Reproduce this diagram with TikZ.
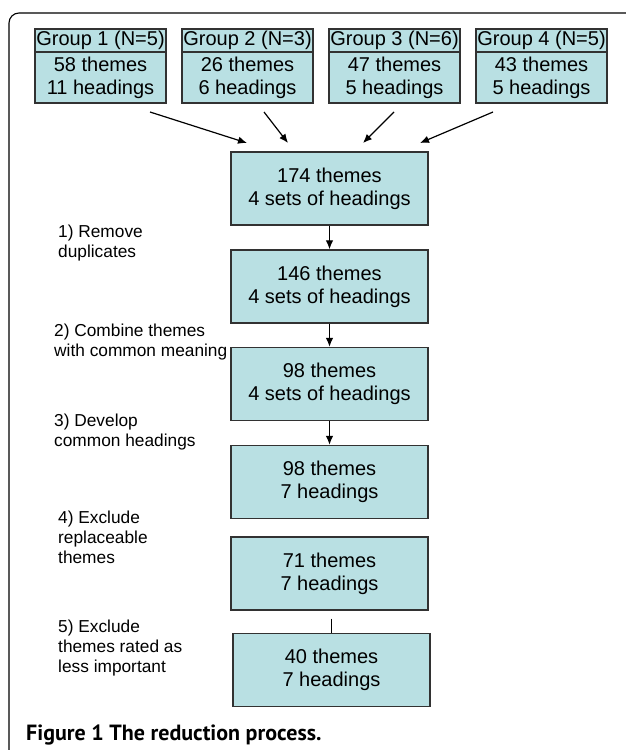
\documentclass[tikz,border=0pt]{standalone}
\usepackage{fontspec}
\setmainfont{Liberation Sans}
\newfontfamily\capfont{PT Sans}
\usetikzlibrary{arrows.meta,backgrounds}
\definecolor{boxfill}{RGB}{185,224,227}
\definecolor{boxline}{RGB}{50,50,50}
\begin{document}
\begin{tikzpicture}[x=1pt,y=-1pt,
  grp/.style={draw=boxline,line width=1.4pt,fill=boxfill,minimum width=131pt,inner sep=0pt,align=center,font=\fontsize{20}{23}\selectfont},
  stagebox/.style={draw=boxline,line width=1.4pt,fill=boxfill,minimum width=197pt,minimum height=73pt,inner sep=0pt,align=center,font=\fontsize{20}{23}\selectfont},
  steplabel/.style={anchor=west,align=left,inner sep=0pt,font=\fontsize{17.3}{20}\selectfont},
  arr/.style={line width=1.2pt,-{Latex[length=9pt,width=7.5pt]}},
  conn/.style={line width=1.2pt}]
\useasboundingbox (0,0) rectangle (625,750);
\fill[white] (0,0) rectangle (625,750);
% frame
\draw[line width=1.1pt,rounded corners=10pt] (9,751) -- (9,13) -- (626,13);
% groups
\node[grp,minimum height=23pt] (g1t) at (100.5,40.5) {Group 1 (N=5)};
\node[grp,minimum height=51pt] (g1) at (100.5,77.5) {58 themes\\11 headings};
\node[grp,minimum height=23pt] (g2t) at (247.5,40.5) {Group 2 (N=3)};
\node[grp,minimum height=51pt] (g2) at (247.5,77.5) {26 themes\\6 headings};
\node[grp,minimum height=23pt] (g3t) at (394.5,40.5) {Group 3 (N=6)};
\node[grp,minimum height=51pt] (g3) at (394.5,77.5) {47 themes\\5 headings};
\node[grp,minimum height=23pt] (g4t) at (541.5,40.5) {Group 4 (N=5)};
\node[grp,minimum height=51pt] (g4) at (541.5,77.5) {43 themes\\5 headings};
% stage boxes
\node[stagebox] (b1) at (329.5,188.5) {174 themes\\4 sets of headings};
\node[stagebox] (b2) at (329.5,286.5) {146 themes\\4 sets of headings};
\node[stagebox] (b3) at (329.5,384) {98 themes\\4 sets of headings};
\node[stagebox] (b4) at (329.5,482) {98 themes\\7 headings};
\node[stagebox] (b5) at (329.5,573.5) {71 themes\\7 headings};
\node[stagebox] (b6) at (331.5,670) {40 themes\\7 headings};
% step labels
\node[steplabel] (l1) at (58,243) {1) Remove\\duplicates};
\node[steplabel] (l2) at (54,342) {2) Combine themes\\with common meaning};
\node[steplabel] (l3) at (54,432) {3) Develop\\common headings};
\node[steplabel] (l4) at (58,537) {4) Exclude\\replaceable\\themes};
\node[steplabel] (l5) at (58,648) {5) Exclude\\themes rated as\\less important};
% caption
\node[anchor=west,inner sep=0pt,font=\capfont\bfseries\fontsize{22}{25}\selectfont] (cap) at (26,735) {Figure 1 The reduction process.};
% arrows from groups
\coordinate (s1) at (150,112); \coordinate (e1) at (247,143);
\coordinate (s2) at (264,112); \coordinate (e2) at (288,143);
\coordinate (s3) at (394,112); \coordinate (e3) at (363,143);
\coordinate (s4) at (493,112); \coordinate (e4) at (420,143);
\draw[arr] (s1) -- (e1);
\draw[arr] (s2) -- (e2);
\draw[arr] (s3) -- (e3);
\draw[arr] (s4) -- (e4);
% vertical arrows
\draw[arr] (b1) -- (b2);
\draw[arr] (b2) -- (b3);
\draw[arr] (b3) -- (b4);
\begin{scope}[on background layer]
\draw[arr,shorten >=-6pt] (b4) -- (b5);
\end{scope}
\draw[conn,shorten <=8pt] (b5.south -| b6) -- (b6.north);
\end{tikzpicture}
\end{document}
